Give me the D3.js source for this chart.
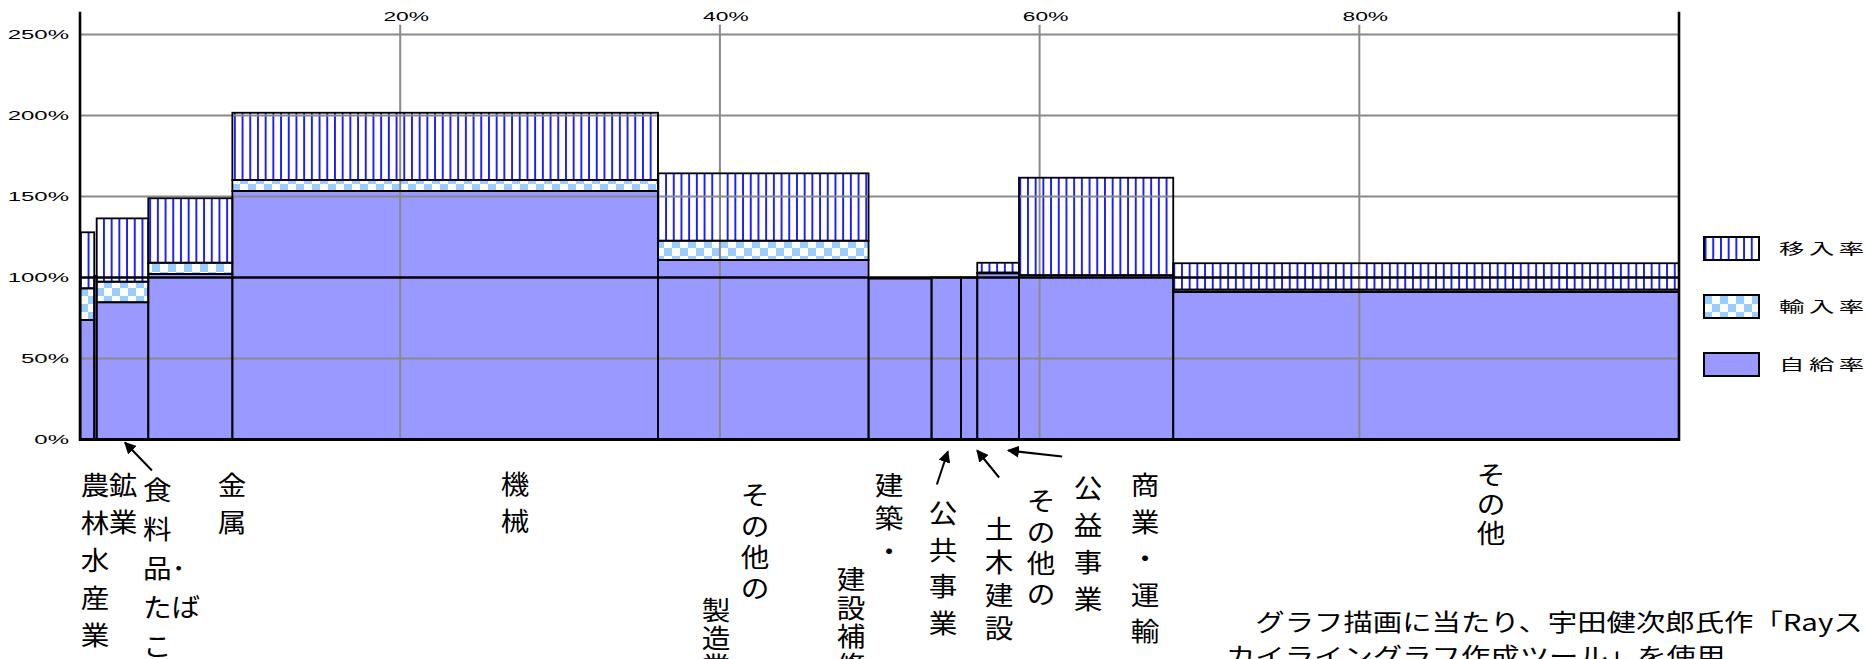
<!DOCTYPE html>
<html>
<head>
<meta charset="utf-8">
<script src="https://cdn.jsdelivr.net/npm/d3@7"></script>
<style>
  html, body { margin: 0; padding: 0; background: #ffffff; }
  svg { display: block; }
</style>
</head>
<body>
<svg id="chart" width="1866" height="659"></svg>
<script>
// ---------------- data ----------------
const categories = ["農林水産業", "鉱業", "食料品・たばこ", "金属", "機械", "その他の製造業",
  "建築・建設補修", "公共事業", "その他の土木建設", "公益事業", "商業・運輸", "その他"];
// share of total demand (%), = bar width
const shares = [0.86, 0.15, 3.23, 5.26, 26.63, 13.17, 3.94, 1.84, 1.02, 2.61, 9.65, 31.64];
// 自給率 (%)
const selfRate = [73.8, 101.0, 84.7, 102.2, 153.4, 110.8, 99.3, 100.0, 100.0, 102.6, 101.4, 91.0];
// 輸入率 (%)
const importRate = [19.5, 0, 12.7, 6.9, 6.8, 11.9, 0, 0, 0, 0.4, 0, 1.5];
// 移入率 (%)
const inflowRate = [34.6, 0, 39.1, 39.8, 41.5, 41.6, 0, 0, 0, 6.1, 60.2, 16.3];

const seriesNames = ["移入率", "輸入率", "自給率"];
const yTicks = [0, 50, 100, 150, 200, 250];
const xTicks = [20, 40, 60, 80];
const noteLines = ["\u3000グラフ描画に当たり、宇田健次郎氏作「Rayス", "カイライングラフ作成ツール」を使用"];

// ---------------- layout (not data) ----------------
const labelLayout = [
  { x: 95,  top: 472, pitch: 37.5, lines: ["農", "林", "水", "産", "業"] },
  { x: 123, top: 472, pitch: 37,   lines: ["鉱", "業"] },
  { x: 143, anchor: "start", top: 477, pitch: 39, lines: ["食", "料", "品･", "たば", "こ"] },
  { x: 232, top: 472, pitch: 37,   lines: ["金", "属"] },
  { x: 515, top: 471, pitch: 37,   lines: ["機", "械"] },
  { x: 755, top: 482, pitch: 31,   lines: ["そ", "の", "他", "の"] },
  { x: 716, top: 597, pitch: 28,   lines: ["製", "造", "業"] },
  { x: 889, top: 472, pitch: 33,   lines: ["建", "築", "・"] },
  { x: 851, top: 566, pitch: 28.5, lines: ["建", "設", "補", "修"] },
  { x: 943, top: 500, pitch: 36.5, lines: ["公", "共", "事", "業"] },
  { x: 1041, top: 488, pitch: 31,  lines: ["そ", "の", "他", "の"] },
  { x: 999, top: 516, pitch: 33,   lines: ["土", "木", "建", "設"] },
  { x: 1088, top: 475, pitch: 37,  lines: ["公", "益", "事", "業"] },
  { x: 1145, top: 472, pitch: 36.5, lines: ["商", "業", "・", "運", "輸"] },
  { x: 1491, top: 462, pitch: 29,  lines: ["そ", "の", "他"] }
];
// arrows: tip at x-percent, offsets in px below axis
const arrows = [
  { pct: 2.78,  tipDy: 3,  dx: 27, dy: 28 },
  { pct: 54.26, tipDy: 12, dx: -11, dy: 33 },
  { pct: 56.09, tipDy: 11, dx: 22, dy: 27 },
  { pct: 58.03, tipDy: 11, dx: 54, dy: 6 }
];

// ---------------- chart ----------------
const svg = d3.select("#chart");
const x = d3.scaleLinear().domain([0, 100]).range([80.5, 1679]);
const y = d3.scaleLinear().domain([0, 250]).range([439.5, 34.5]);

const cjk = "'Noto Sans CJK JP', 'Noto Sans CJK SC', sans-serif";
const latin = "'Liberation Sans', Arial, sans-serif";

// patterns
const defs = svg.append("defs");
const stripe = defs.append("pattern").attr("id", "stripe")
  .attr("patternUnits", "userSpaceOnUse").attr("width", 7.7).attr("height", 10);
stripe.append("rect").attr("width", 7.7).attr("height", 10).attr("fill", "#ffffff");
stripe.append("rect").attr("x", 3).attr("width", 1.7).attr("height", 10).attr("fill", "#0000ff");

const checker = defs.append("pattern").attr("id", "checker")
  .attr("patternUnits", "userSpaceOnUse").attr("width", 16).attr("height", 16);
checker.append("rect").attr("width", 16).attr("height", 16).attr("fill", "#ffffff");
checker.append("rect").attr("width", 8).attr("height", 8).attr("fill", "#99ccff");
checker.append("rect").attr("x", 8).attr("y", 8).attr("width", 8).attr("height", 8).attr("fill", "#99ccff");

const fills = { "自給率": "#9999ff", "輸入率": "url(#checker)", "移入率": "url(#stripe)" };

// build segments
const starts = [];
let acc = 0;
shares.forEach(s => { starts.push(acc); acc += s; });
const segs = [];
categories.forEach((c, i) => {
  const a = selfRate[i], b = a + importRate[i], t = b + inflowRate[i];
  segs.push({ i, s: "自給率", y0: 0, y1: a });
  if (importRate[i] > 0) segs.push({ i, s: "輸入率", y0: a, y1: b });
  if (inflowRate[i] > 0) segs.push({ i, s: "移入率", y0: b, y1: t });
});
const rectAttrs = sel => sel
  .attr("x", d => x(starts[d.i]))
  .attr("width", d => x(starts[d.i] + shares[d.i]) - x(starts[d.i]))
  .attr("y", d => y(d.y1))
  .attr("height", d => y(d.y0) - y(d.y1));

svg.append("g").selectAll("rect").data(segs).join("rect")
  .call(rectAttrs).attr("fill", d => fills[d.s]);

// gridlines
const grid = svg.append("g").attr("stroke", "#8a8a8a").attr("stroke-width", 2);
grid.selectAll("line.h").data(yTicks.filter(v => v !== 0 && v !== 100)).join("line")
  .attr("x1", x(0)).attr("x2", x(100)).attr("y1", d => y(d)).attr("y2", d => y(d));
grid.selectAll("line.v").data(xTicks).join("line").attr("class", "v")
  .attr("x1", d => x(d)).attr("x2", d => x(d)).attr("y1", y(256)).attr("y2", y(0));

// outlines
svg.append("g").selectAll("rect").data(segs).join("rect")
  .call(rectAttrs).attr("fill", "none").attr("stroke", "#000").attr("stroke-width", 1.8);

// 100% line
svg.append("line").attr("x1", x(0)).attr("x2", x(100)).attr("y1", y(100)).attr("y2", y(100))
  .attr("stroke", "#000").attr("stroke-width", 2.6);

// axes frame
const ax = svg.append("g").attr("stroke", "#000");
ax.append("line").attr("x1", x(0) - 0.5).attr("x2", x(0) - 0.5).attr("y1", y(264)).attr("y2", y(0) + 1.5).attr("stroke-width", 2.6);
ax.append("line").attr("x1", x(100)).attr("x2", x(100)).attr("y1", y(264)).attr("y2", y(0) + 1.5).attr("stroke-width", 2.6);
ax.append("line").attr("x1", x(0) - 1.5).attr("x2", x(100) + 1).attr("y1", y(0)).attr("y2", y(0)).attr("stroke-width", 3);

// y tick labels
svg.append("g").selectAll("text").data(yTicks).join("text")
  .attr("transform", d => `translate(69,${y(d) + 4.3}) scale(2,1)`)
  .attr("text-anchor", "end").attr("font-family", latin).attr("font-size", 12)
  .attr("fill", "#000").text(d => d + "%");

// x tick labels (top)
svg.append("g").selectAll("text").data(xTicks).join("text")
  .attr("transform", d => `translate(${x(d) + 6},21) scale(1.9,1)`)
  .attr("text-anchor", "middle").attr("font-family", latin).attr("font-size", 12)
  .attr("fill", "#000").text(d => d + "%");

// category labels
const lab = svg.append("g").attr("font-family", cjk).attr("font-size", 26).attr("fill", "#000");
labelLayout.forEach(L => {
  L.lines.forEach((t, k) => {
    lab.append("text")
      .attr("transform", `translate(${L.x},${L.top + 23 + k * L.pitch}) scale(1.1,1)`)
      .attr("text-anchor", L.anchor || "middle")
      .text(t);
  });
});

// arrows
defs.append("marker").attr("id", "ah").attr("viewBox", "0 0 10 10").attr("refX", 9).attr("refY", 5)
  .attr("markerWidth", 12).attr("markerHeight", 12).attr("markerUnits", "userSpaceOnUse")
  .attr("orient", "auto").append("path").attr("d", "M0,0 L10,5 L0,10 Z").attr("fill", "#000");
svg.append("g").selectAll("line").data(arrows).join("line")
  .attr("x1", d => x(d.pct) + d.dx).attr("y1", d => y(0) + d.tipDy + d.dy)
  .attr("x2", d => x(d.pct)).attr("y2", d => y(0) + d.tipDy)
  .attr("stroke", "#000").attr("stroke-width", 2).attr("marker-end", "url(#ah)");

// legend
const legend = svg.append("g");
const legY = [237, 295, 353];
seriesNames.forEach((s, k) => {
  legend.append("rect").attr("x", 1704).attr("y", legY[k]).attr("width", 55).attr("height", 23)
    .attr("fill", fills[s]).attr("stroke", "#000").attr("stroke-width", 2);
  legend.append("text")
    .attr("transform", `translate(1779,${legY[k] + 17}) scale(1.75,1)`)
    .attr("font-family", cjk).attr("font-size", 14.5).attr("letter-spacing", 2.6)
    .attr("fill", "#000").text(s);
});

// note
const note = svg.append("g").attr("font-family", cjk).attr("font-size", 23.5).attr("fill", "#000");
noteLines.forEach((t, k) => {
  note.append("text").attr("transform", `translate(1226,${631 + k * 34}) scale(1.25,1)`).text(t);
});
</script>
</body>
</html>
